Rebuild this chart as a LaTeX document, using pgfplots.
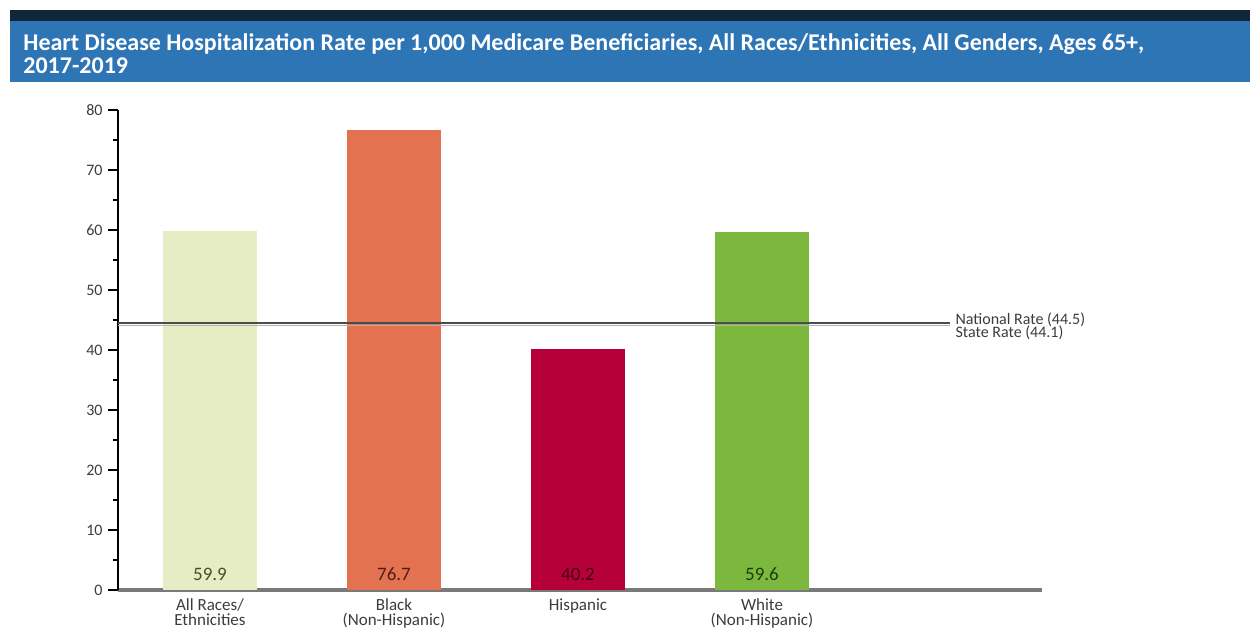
\documentclass[border=0pt]{standalone}
\usepackage{pgfplots}
\pgfplotsset{compat=1.18}
\usepackage{fontspec}
\setmainfont{Carlito}
\definecolor{navy}{RGB}{16,38,58}
\definecolor{titleblue}{RGB}{46,117,182}
\definecolor{barA}{RGB}{230,236,196}
\definecolor{barB}{RGB}{227,114,80}
\definecolor{barC}{RGB}{181,0,58}
\definecolor{barD}{RGB}{124,184,62}
\definecolor{txtA}{RGB}{70,80,40}
\definecolor{txtB}{RGB}{80,30,20}
\definecolor{txtC}{RGB}{70,0,20}
\definecolor{txtD}{RGB}{30,60,15}
\definecolor{ticktxt}{RGB}{60,60,60}
\begin{document}
\begin{tikzpicture}
\path[use as bounding box] (0,0) rectangle (627.5pt,314.5pt);
\fill[navy] (5pt,309.5pt) rectangle (625pt,304pt);
\fill[titleblue] (5pt,304pt) rectangle (625pt,273.5pt);
\node[anchor=north west, inner sep=0pt, text=white, align=left, font=\bfseries\fontsize{12}{11.6}\selectfont] at (11.5pt,298pt) {Heart Disease Hospitalization Rate per 1,000 Medicare Beneficiaries, All Races/Ethnicities, All Genders, Ages 65+,\\2017-2019};
\begin{axis}[
  at={(59pt,19.5pt)}, anchor=south west,
  x=92pt, y=3pt,
  xmin=-0.5, xmax=4.52, ymin=0, ymax=80,
  axis x line*=bottom, axis y line*=left,
  axis line style={-},
  x axis line style={draw=gray!95!black, line width=2pt},
  y axis line style={draw=black, line width=0.7pt},
  xtick={0,1,2,3},
  xticklabels={{All Races/\\Ethnicities},{Black\\(Non-Hispanic)},{Hispanic},{White\\(Non-Hispanic)}},
  x tick style={draw=none},
  x tick label style={font=\fontsize{8.5}{7.5}\selectfont, align=center, inner sep=0pt, yshift=1pt, text=ticktxt},
  ytick={0,10,...,80},
  minor ytick={5,15,...,75},
  tick align=outside,
  major tick length=5pt, minor tick length=2.5pt,
  y tick style={black, line width=0.6pt},
  y tick label style={font=\fontsize{8}{9}\selectfont, inner sep=0pt, xshift=-2.5pt, text=ticktxt},
  /pgf/number format/assume math mode=true,
  clip=false,
]
\addplot[ybar, bar width=47pt, bar shift=0pt, fill=barA, draw=none] coordinates {(0,59.9)};
\addplot[ybar, bar width=47pt, bar shift=0pt, fill=barB, draw=none] coordinates {(1,76.7)};
\addplot[ybar, bar width=47pt, bar shift=0pt, fill=barC, draw=none] coordinates {(2,40.2)};
\addplot[ybar, bar width=47pt, bar shift=0pt, fill=barD, draw=none] coordinates {(3,59.6)};
\addplot[gray!60, line width=0.9pt] coordinates {(-0.5,44.1) (4.02,44.1)};
\addplot[black!70, line width=0.9pt] coordinates {(-0.5,44.5) (4.02,44.5)}
  node[pos=1, anchor=base west, inner sep=0pt, xshift=2.5pt, yshift=-0.5pt, text=ticktxt, font=\fontsize{8}{9}\selectfont] {National Rate (44.5)}
  node[pos=1, anchor=base west, inner sep=0pt, xshift=2.5pt, yshift=-7pt, text=ticktxt, font=\fontsize{8}{9}\selectfont] {State Rate (44.1)};
\addplot[draw=none, nodes near coords, point meta=explicit symbolic,
  every node near coord/.append style={anchor=base, yshift=5pt, inner sep=0pt, font=\fontsize{9.5}{12}\selectfont, text=txtA}] coordinates {(0,0) [59.9]};
\addplot[draw=none, nodes near coords, point meta=explicit symbolic,
  every node near coord/.append style={anchor=base, yshift=5pt, inner sep=0pt, font=\fontsize{9.5}{12}\selectfont, text=txtB}] coordinates {(1,0) [76.7]};
\addplot[draw=none, nodes near coords, point meta=explicit symbolic,
  every node near coord/.append style={anchor=base, yshift=5pt, inner sep=0pt, font=\fontsize{9.5}{12}\selectfont, text=txtC}] coordinates {(2,0) [40.2]};
\addplot[draw=none, nodes near coords, point meta=explicit symbolic,
  every node near coord/.append style={anchor=base, yshift=5pt, inner sep=0pt, font=\fontsize{9.5}{12}\selectfont, text=txtD}] coordinates {(3,0) [59.6]};
\end{axis}
\end{tikzpicture}
\end{document}
